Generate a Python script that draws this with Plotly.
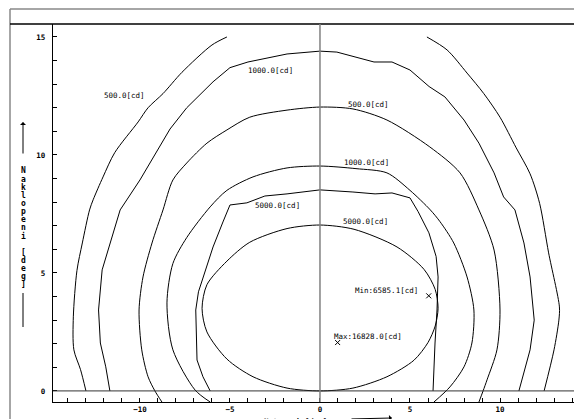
import plotly.graph_objects as go

# ---------------- data ----------------
# outer 500 cd contour, left and right branches
c500_outer_left_x = [-5.17, -6.0, -7.67, -8.72, -9.55, -10.1, -11.4, -12.05, -12.6, -12.8, -13.2, -13.5, -13.7, -13.67, -13.3, -13.0]
c500_outer_left_y = [15.0, 14.66, 13.5, 12.6, 12.0, 11.4, 10.1, 9.07, 8.1, 7.67, 6.27, 5.1, 3.14, 1.74, 0.9, 0.0]
c500_outer_right_x = [5.94, 7.06, 8.17, 9.1, 10.0, 10.9, 11.67, 12.2, 12.7, 13.3, 13.27, 13.0, 12.45]
c500_outer_right_y = [15.0, 14.45, 13.47, 12.6, 11.6, 10.3, 9.2, 7.95, 5.85, 3.56, 3.0, 1.74, 0.0]

# outer 1000 cd contour
c1000_outer_x = [-11.67, -11.9, -12.2, -12.3, -12.1, -11.67, -11.1, -10.0, -9.17, -8.33, -7.4, -5.94, -5.0, -4.0, -1.83, 0.0, 0.94, 3.0, 4.0, 5.0, 6.06, 6.94, 8.0, 8.83, 9.67, 10.2, 10.83, 11.33, 11.67, 11.9, 11.67, 11.05]
c1000_outer_y = [0.0, 1.02, 2.03, 3.43, 5.13, 6.27, 7.67, 8.94, 10.0, 11.1, 12.0, 13.1, 13.7, 13.94, 14.28, 14.4, 14.36, 13.94, 13.94, 13.6, 12.9, 12.46, 11.48, 10.5, 9.24, 8.22, 7.67, 6.27, 4.83, 3.0, 1.74, 0.0]

# inner 500 cd contour
c500_inner_x = [-8.78, -9.17, -9.55, -9.9, -10.05, -9.83, -9.33, -8.72, -8.17, -7.4, -6.28, -5.17, -3.9, -1.83, 0.0, 1.83, 3.72, 6.1, 7.78, 8.83, 9.67, 10.0, 9.83, 9.28, 9.06, 8.83]
c500_inner_y = [-0.47, 0.0, 0.6, 1.74, 3.43, 4.83, 6.27, 7.67, 8.94, 9.66, 10.5, 11.06, 11.6, 11.9, 12.03, 11.95, 11.48, 10.34, 9.24, 7.67, 5.97, 3.43, 1.74, 0.47, 0.0, -0.47]

# inner 1000 cd contour
c1000_inner_x = [-6.1, -6.94, -8.17, -8.5, -8.17, -7.4, -6.1, -5.17, -3.72, -1.83, 0.0, 2.0, 3.72, 5.0, 6.13, 6.67, 7.43, 8.17, 8.55, 8.44, 8.0, 7.22, 6.33]
c1000_inner_y = [-0.47, 0.04, 1.74, 3.73, 5.4, 6.5, 7.8, 8.5, 9.07, 9.45, 9.53, 9.42, 9.24, 8.5, 7.67, 7.17, 6.27, 4.83, 3.43, 2.03, 1.02, 0.17, -0.47]

# 5000 cd contour (jagged)
c5000_a_x = [-6.1, -6.5, -6.83, -6.9, -6.75, -6.4, -5.94, -5.39, -5.0, -4.06, -3.06, -1.83, -0.72, 0.0, 1.83, 3.06, 4.0, 5.0, 5.45, 6.05, 6.45, 6.56, 6.5, 6.39, 6.28]
c5000_a_y = [0.0, 0.6, 1.31, 3.43, 4.2, 5.0, 6.1, 7.16, 7.88, 7.97, 8.26, 8.35, 8.47, 8.52, 8.43, 8.35, 8.39, 8.18, 7.6, 6.7, 5.7, 4.83, 3.43, 2.03, 0.0]

# 5000 cd contour (oval)
c5000_b_x = [0.0, 1.83, 3.72, 5.22, 6.0, 6.4, 6.56, 6.4, 5.78, 4.28, 1.89, 0.0, -1.83, -3.9, -5.17, -6.28, -6.55, -6.28, -5.17, -3.72, -1.83, 0.0]
c5000_b_y = [0.0, 0.12, 0.6, 1.3, 2.05, 2.75, 3.5, 4.3, 5.15, 6.1, 6.85, 7.03, 6.88, 6.3, 5.5, 4.5, 3.5, 2.5, 1.35, 0.6, 0.12, 0.0]

# contour labels
label_text = ["500.0[cd]", "1000.0[cd]", "500.0[cd]", "1000.0[cd]", "5000.0[cd]", "5000.0[cd]", "Min:6585.1[cd]", "Max:16828.0[cd]"]
label_x = [-10.86, -2.75, 2.72, 2.61, -2.36, 2.53, 3.67, 2.67]
label_y = [12.54, 13.56, 12.12, 9.66, 7.84, 7.16, 4.24, 2.29]

# min / max markers
extreme_x = [6.04, 0.98]
extreme_y = [4.03, 2.05]

# axis text
y_title = "Naklopeni [deg]"
x_title = "Natoceni [deg]"
x_tickvals = [-10, -5, 0, 5, 10]
y_tickvals = [0, 5, 10, 15]

# ---------------- figure ----------------
MONO = "DejaVu Sans Mono"
W, H = 574, 419
ML, MR, MT, MB = 53, 0, 24, 17
PW, PH = W - ML - MR, H - MT - MB


def px_x(px):
    return (px - ML) / PW


def px_y(py):
    return (H - MB - py) / PH


fig = go.Figure()

curves = [
    (c500_outer_left_x, c500_outer_left_y, "spline"),
    (c500_outer_right_x, c500_outer_right_y, "spline"),
    (c1000_outer_x, c1000_outer_y, "linear"),
    (c500_inner_x, c500_inner_y, "spline"),
    (c1000_inner_x, c1000_inner_y, "spline"),
    (c5000_a_x, c5000_a_y, "linear"),
    (c5000_b_x, c5000_b_y, "spline"),
]
for cx, cy, shp in curves:
    fig.add_trace(go.Scatter(
        x=cx, y=cy, mode="lines",
        line=dict(color="black", width=1, shape=shp, smoothing=0.8),
        hoverinfo="skip", showlegend=False))

fig.add_trace(go.Scatter(
    x=extreme_x, y=extreme_y, mode="markers",
    marker=dict(symbol="x-thin", size=5, color="black", line=dict(width=1, color="black")),
    hoverinfo="skip", showlegend=False))

annotations = []
for t, lx, ly in zip(label_text, label_x, label_y):
    annotations.append(dict(x=lx, y=ly, xref="x", yref="y", text=t, showarrow=False,
                            font=dict(family=MONO, size=7.5, color="black"),
                            xanchor="center", yanchor="middle"))

# vertical y title, letters stacked
for i, ch in enumerate(y_title):
    if ch == " ":
        continue
    annotations.append(dict(x=px_x(23), y=px_y(171 + i * 8.1), xref="paper", yref="paper",
                            text=ch, showarrow=False,
                            font=dict(family=MONO, size=8, color="black", weight="bold"),
                            xanchor="center", yanchor="middle"))

# arrow above the y title
annotations.append(dict(x=px_x(23), y=px_y(122), xref="paper", yref="paper", text="",
                        showarrow=True, ax=0, ay=33, arrowhead=1, arrowsize=1,
                        arrowwidth=1, arrowcolor="black"))

# x title (mostly below the picture edge)
annotations.append(dict(x=px_x(262), y=px_y(415), xref="paper", yref="paper", text=x_title,
                        showarrow=False, xanchor="left", yanchor="top",
                        font=dict(family=MONO, size=7.5, color="black", weight="bold")))
annotations.append(dict(x=px_x(392), y=px_y(424), xref="paper", yref="paper", text="",
                        showarrow=True, ax=-42, ay=0, arrowhead=1, arrowsize=1,
                        arrowwidth=1, arrowcolor="black"))

shapes = [
    # outer frame
    dict(type="line", xref="paper", yref="paper", x0=px_x(10), x1=1.02, y0=px_y(9), y1=px_y(9),
         line=dict(color="#888888", width=1.5)),
    dict(type="line", xref="paper", yref="paper", x0=px_x(10), x1=px_x(10), y0=px_y(9), y1=px_y(430),
         line=dict(color="#888888", width=1.5)),
    dict(type="line", xref="paper", yref="paper", x0=px_x(10), x1=1.02, y0=1, y1=1,
         line=dict(color="black", width=1.5)),
    # zero lines
    dict(type="line", xref="paper", yref="y", x0=0, x1=1, y0=0, y1=0,
         line=dict(color="#333333", width=1)),
    dict(type="line", xref="x", yref="paper", x0=0, x1=0, y0=0, y1=1,
         line=dict(color="#808080", width=1.5)),
    # line under the y title
    dict(type="line", xref="paper", yref="paper", x0=px_x(23), x1=px_x(23), y0=px_y(293), y1=px_y(327),
         line=dict(color="black", width=1)),
]

fig.update_layout(
    width=W, height=H,
    margin=dict(l=ML, r=MR, t=MT, b=MB, pad=0),
    paper_bgcolor="white", plot_bgcolor="white",
    showlegend=False,
    annotations=annotations,
    shapes=shapes,
    xaxis=dict(range=[-14.83, 14.11], showgrid=False, zeroline=False,
               showline=True, linecolor="black", linewidth=1.3,
               tickmode="array", tickvals=x_tickvals, ticktext=["\u221210", "\u22125", "0", "5", "10"],
               ticks="inside", ticklen=4, tickwidth=1, tickcolor="black",
               minor=dict(dtick=1, ticks="inside", ticklen=4, tickwidth=1, tickcolor="black", showgrid=False),
               tickfont=dict(family=MONO, size=7.5, color="black", weight="bold")),
    yaxis=dict(range=[-0.47, 15.55], showgrid=False, zeroline=False,
               showline=True, linecolor="black", linewidth=1.3,
               tickmode="array", tickvals=y_tickvals,
               ticks="inside", ticklen=4, tickwidth=1, tickcolor="black",
               minor=dict(dtick=1, ticks="inside", ticklen=4, tickwidth=1, tickcolor="black", showgrid=False),
               ticklabelstandoff=5,
               tickfont=dict(family=MONO, size=7.5, color="black", weight="bold")),
)

fig.write_html("out.html", config={"displayModeBar": False},
               post_script="document.body.style.margin='0';document.body.style.overflow='hidden';")
